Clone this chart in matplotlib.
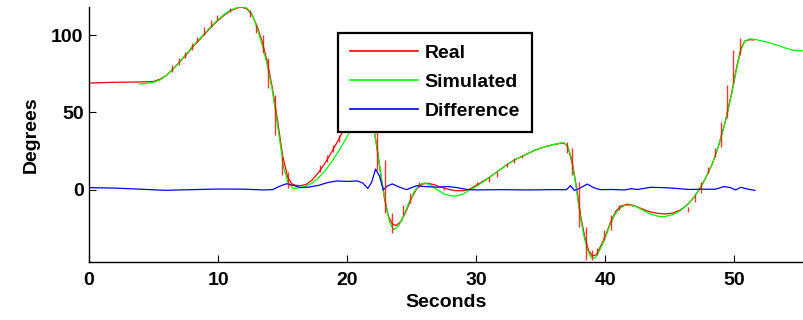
import matplotlib
matplotlib.use("Agg")
import matplotlib.pyplot as plt

real_t = [0, 2, 4, 5, 5.5, 6, 6.5, 7, 7.5, 8, 8.5, 9, 9.5, 10, 10.5, 11, 11.5, 11.8,
          12.2, 12.6, 13, 13.4, 13.8, 14.2, 14.6, 15, 15.4, 15.7, 16, 16.4, 16.8,
          17.3, 17.8, 18.3, 18.8, 19.3, 19.8, 20.3, 20.8, 21.3, 21.7, 22.0, 22.3,
          22.6, 22.9, 23.2, 23.5, 23.8, 24.2, 24.6, 25, 25.4, 25.8, 26.2, 26.7,
          27.2, 27.8, 28.4, 29, 29.5, 30, 30.5, 31, 31.5, 32, 32.5, 33, 33.5, 34,
          34.5, 35, 35.5, 36, 36.5, 36.8, 37.0, 37.2, 37.5, 37.8, 38.1, 38.4, 38.7,
          39, 39.3, 39.6, 40, 40.4, 40.8, 41.2, 41.7, 42.2, 42.8, 43.4, 44, 44.6,
          45.2, 45.8, 46.3, 46.8, 47.3, 47.8, 48.3, 48.8, 49.3, 49.8, 50.2, 50.5,
          50.8, 51.2, 51.5]
real_deg = [69, 69.5, 69.7, 70, 71.5, 74, 78, 82.5, 87, 92, 96.5, 101, 105.5, 109.5,
            113, 115.8, 117.5, 118, 117, 113.5, 106, 96, 83, 66, 45, 22, 8, 4, 3,
            2.8, 3.5, 6.5, 11.5, 17.5, 24.5, 32, 40, 47, 52, 54, 50, 42, 28, 10, -6,
            -17, -22, -23, -20, -13, -5, 1, 3.8, 4.3, 3.5, 2, 0.5, -0.5, -0.5, 0.5,
            3, 5.5, 8, 11, 14, 17, 19.5, 21.5, 23.5, 25.5, 27, 28.3, 29.3, 30, 30.2,
            29, 25, 15, 0, -17, -30, -39, -42.5, -42, -37, -30, -21, -14, -10.5,
            -9.2, -10, -12, -14, -15, -15.5, -15, -13, -10, -5.5, 0.5, 8, 17, 29, 44,
            63, 80, 91, 96, 97, 96.8]

# Simulated angle
sim_t = [3.9, 4.5, 5, 5.5, 6, 6.5, 7, 7.5, 8, 8.5, 9, 9.5, 10, 10.5, 11, 11.5, 11.8,
         12.2, 12.6, 13, 13.4, 13.8, 14.2, 14.55, 15.06, 15.4, 15.8, 16.2, 16.8,
         17.3, 17.8, 18.3, 18.9, 19.4, 19.9, 20.4, 20.9, 21.4, 21.8, 22.1, 22.4,
         22.7, 23, 23.3, 23.6, 24, 24.4, 24.8, 25.2, 25.6, 26, 26.5, 27, 27.5, 28,
         28.4, 28.9, 29.4, 29.8, 30.5, 31, 31.5, 32, 32.5, 33, 33.5, 34, 34.5, 35,
         35.5, 36, 36.5, 36.8, 37.1, 37.4, 37.7, 38, 38.3, 38.6, 38.9, 39.2, 39.5,
         39.9, 40.3, 40.7, 41.1, 41.5, 41.9, 42.4, 42.9, 43.5, 44.1, 44.6, 45.2,
         45.8, 46.3, 46.8, 47.3, 47.8, 48.3, 48.8, 49.3, 49.8, 50.2, 50.5, 50.8,
         51.2, 51.7, 52.5, 53.3, 54, 54.6, 55.4]
sim_deg = [68.4, 68.8, 69.5, 71, 74, 78, 82.5, 87.5, 92.5, 97, 101.5, 106, 110, 113.5,
           116.2, 117.8, 118.2, 117.5, 114, 105, 94, 81, 64, 45, 15, 5, 1, 1.3, 2.5,
           4.5, 8, 12.5, 19.4, 26, 33, 41, 48, 52, 48, 38, 22, 5, -10, -21, -25.8,
           -23, -16, -8, -1, 3.5, 4.5, 3, 0, -2.5, -3.7, -4, -3, -0.5, 1.3, 5, 8,
           11, 14, 17, 19.5, 21.5, 23.5, 25.5, 27, 28.3, 29.3, 30.2, 30.5, 28, 20,
           4, -14, -28, -38, -43.5, -44, -40, -33, -24, -16.5, -12, -10, -9.8,
           -10.8, -13, -15.5, -17, -17.2, -16, -13.5, -10, -5.5, 0.5, 8, 17, 29, 44,
           62, 79, 90, 96, 97.5, 97, 95.5, 93.5, 91.5, 90, 89.8]

# Difference between the two
diff_t = [0, 2, 4, 5.2, 6, 8, 10, 12, 13.5, 14.2, 14.8, 15.3, 15.8, 16.4, 17, 17.8,
          18.5, 19.2, 20, 20.8, 21.2, 21.6, 21.9, 22.2, 22.5, 22.8, 23.1, 23.5, 24,
          24.6, 25, 25.4, 26, 27, 27.8, 28.5, 29.3, 30, 32, 34, 36, 37, 37.3, 37.6,
          38, 38.6, 39.1, 39.6, 40.5, 41.5, 42, 42.5, 43.5, 44.5, 45.5, 46.5, 47.5,
          48.5, 49.2, 49.7, 50.1, 50.5, 51, 51.6]
diff_deg = [1.5, 1.2, 0.5, 0, -0.2, 0.2, 0.6, 0.5, 0, 0.2, 2.5, 4, 3, 1.5, 1.8, 3,
            4.8, 5.8, 5.5, 5.8, 4.5, 1, 5, 13.5, 9, 0, 2.5, 3.9, 2, 0.2, 1.5, 2.8,
            2.2, 1.8, 2.2, 1.5, 0.3, 0, 0.2, 0, 0.2, 0.2, 2.8, -0.3, 1, 3.8, 1.5,
            0.2, 0.3, 0, 0.8, 0.3, 1.7, 1.5, 1, 0.3, 0.5, 0.4, 2.2, 1.5, 0, 1.7,
            0.6, -0.3]

# Short jumps in the measured signal (time, low, high)
spike_t = [6.41, 6.97, 7.44, 7.96, 8.39, 8.91, 9.43, 9.95, 10.93, 12.49, 12.95,
           13.47, 13.9, 14.42, 14.94, 15.45, 17.91, 18.43, 18.92, 19.33, 22.31,
           22.96, 23.48, 24.35, 24.9, 25.54, 27.48, 30.07, 30.97, 31.62, 32.4,
           32.9, 33.56, 37.05, 37.44, 37.95, 38.47, 38.99, 39.38, 39.9, 40.47,
           41.06, 46.41, 46.93, 47.45, 47.96, 48.48, 48.94, 49.46, 49.93, 50.44]
spike_lo = [76.1, 80.6, 85.2, 90.3, 95.5, 100, 105, 109.7, 114.8, 111.6, 101.3,
            88.4, 65.8, 35.5, 9.7, 1.3, 11.6, 18, 24.5, 31, 12.9, -14.8, -27.7,
            -16.1, -8.4, 1.9, 0, 3.2, 5.2, 8.4, 14.8, 17.4, 20.6, 23.9, 9.7, -23.9,
            -45.2, -45.5, -41.9, -32.3, -25.8, -12.9, -14.2, -7.7, -1.9, 11, 21.3,
            27.7, 46.5, 69, 87.1]
spike_hi = [80.6, 85.2, 89.0, 94.8, 98.7, 105, 109.7, 112.9, 117.4, 116.1, 106.5,
            100, 85.2, 61.3, 21.3, 11.6, 16.1, 22.6, 29, 35.5, 37.4, 19.4, -14.8,
            -9.7, -1.9, 5.2, 1.9, 5.2, 8.4, 11.6, 17.4, 20.6, 22.6, 31, 27, 5.2,
            -23.9, -38.7, -37.4, -25.8, -16.1, -9.7, -11, -3.2, 5.2, 14.8, 27.1,
            43.9, 67.7, 90.3, 98.1]

plt.rcParams["font.family"] = ["Liberation Sans", "DejaVu Sans"]
plt.rcParams["font.weight"] = "bold"

fig = plt.figure(figsize=(8.04, 3.2), dpi=100)
ax = fig.add_axes([89.1 / 804, 1 - 262 / 320, 1 - 89.1 / 804, (262 - 6.5) / 320])

ax.plot(real_t, real_deg, color="#ff0000", lw=0.9, label="Real")
ax.plot(sim_t, sim_deg, color="#00ff00", lw=0.9, label="Simulated")
ax.plot(diff_t, diff_deg, color="#0000ff", lw=0.9, label="Difference")
ax.vlines(spike_t, spike_lo, spike_hi, color="#ff0000", lw=1.0, alpha=0.8, zorder=3)

ax.set_xlim(0, 55.4)
ax.set_ylim(-46.5, 118.4)
ax.set_xticks([0, 10, 20, 30, 40, 50])
ax.set_yticks([0, 50, 100])

for side in ["top", "right"]:
    ax.spines[side].set_visible(False)
for side in ["left", "bottom"]:
    ax.spines[side].set_linewidth(1.0)

ax.tick_params(direction="in", length=5, width=0.8, labelsize=14)
ax.tick_params(axis="x", pad=7)
ax.tick_params(axis="y", pad=4)
for lab in ax.get_xticklabels() + ax.get_yticklabels():
    lab.set_fontweight("bold")

ax.set_xlabel("Seconds", fontsize=14, fontweight="bold", labelpad=4)
ax.set_ylabel("Degrees", fontsize=14, fontweight="bold", labelpad=8)

leg = ax.legend(loc="upper left", bbox_to_anchor=(338 / 804, 1 - 33 / 320),
                bbox_transform=fig.transFigure, borderaxespad=0, fancybox=False,
                framealpha=1, edgecolor="black", handlelength=3.5,
                handletextpad=0.35, labelspacing=0.58, borderpad=0.6,
                prop={"size": 14, "weight": "bold"})
leg.get_frame().set_linewidth(1.6)
for line in leg.get_lines():
    line.set_linewidth(1.2)

fig.savefig("out.png", dpi=100)
